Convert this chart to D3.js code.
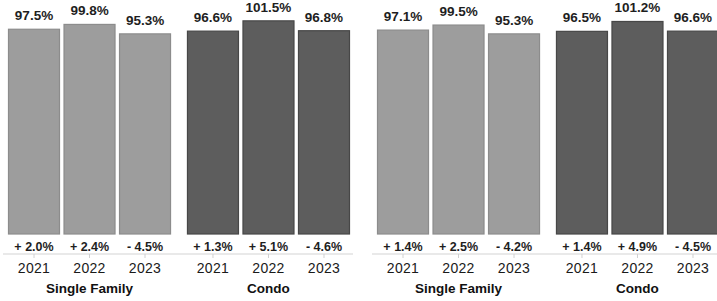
<!DOCTYPE html>
<html>
<head>
<meta charset="utf-8">
<script src="https://cdn.jsdelivr.net/npm/d3@7"></script>
<style>
  html, body { margin: 0; padding: 0; background: #fff; }
  svg { display: block; font-family: "Liberation Sans", Arial, sans-serif; }
</style>
</head>
<body>
<svg width="717" height="301"></svg>
<script>
const years = ["2021", "2022", "2023"];
const types = ["Single Family", "Condo"];

// panel 1
const sfValuesA = [97.5, 99.8, 95.3];
const condoValuesA = [96.6, 101.5, 96.8];
const sfChangeA = [2.0, 2.4, -4.5];
const condoChangeA = [1.3, 5.1, -4.6];

// panel 2
const sfValuesB = [97.1, 99.5, 95.3];
const condoValuesB = [96.5, 101.2, 96.6];
const sfChangeB = [1.4, 2.5, -4.2];
const condoChangeB = [1.4, 4.9, -4.5];

const panels = [
  { left: 8, values: [sfValuesA, condoValuesA], changes: [sfChangeA, condoChangeA] },
  { left: 377, values: [sfValuesB, condoValuesB], changes: [sfChangeB, condoChangeB] }
];

const colors = { "Single Family": "#9d9d9d", "Condo": "#5d5d5d" };
const strokes = { "Single Family": "#8c8c8c", "Condo": "#474747" };

const svg = d3.select("svg");
const baseline = 234;

const y = d3.scaleLinear()
  .domain([0, 110])
  .range([baseline, 3]);

const fmtChange = v => (v < 0 ? "- " : "+ ") + Math.abs(v).toFixed(1) + "%";

panels.forEach(p => {
  const g = svg.append("g").attr("transform", `translate(${p.left},0)`);

  const x0 = d3.scaleBand()
    .domain(types)
    .range([0, 342])
    .paddingInner(0.089)
    .paddingOuter(0);

  const x1 = d3.scaleBand()
    .domain(years)
    .range([0, x0.bandwidth()])
    .paddingInner(0.063)
    .paddingOuter(0);

  // axis line under the change labels
  g.append("line")
    .attr("x1", -5).attr("x2", 345)
    .attr("y1", 254).attr("y2", 254)
    .attr("stroke", "#e2e2e2")
    .attr("stroke-width", 1.5);

  types.forEach((t, ti) => {
    const rows = years.map((yr, i) => ({
      year: yr,
      value: p.values[ti][i],
      change: p.changes[ti][i]
    }));

    const grp = g.append("g").attr("transform", `translate(${x0(t)},0)`);

    grp.selectAll("rect")
      .data(rows)
      .enter()
      .append("rect")
      .attr("x", d => x1(d.year) + 0.5)
      .attr("y", d => y(d.value))
      .attr("width", x1.bandwidth() - 1)
      .attr("height", d => baseline - y(d.value))
      .attr("fill", colors[t])
      .attr("stroke", strokes[t])
      .attr("stroke-width", 1.2);

    grp.selectAll(".val")
      .data(rows)
      .enter()
      .append("text")
      .attr("class", "val")
      .attr("x", d => x1(d.year) + x1.bandwidth() / 2)
      .attr("y", d => y(d.value) - 9)
      .attr("text-anchor", "middle")
      .attr("fill", "#1e1e1e")
      .style("font-size", "13.5px")
      .style("font-weight", "bold")
      .text(d => d.value.toFixed(1) + "%");

    grp.selectAll(".chg")
      .data(rows)
      .enter()
      .append("text")
      .attr("class", "chg")
      .attr("x", d => x1(d.year) + x1.bandwidth() / 2)
      .attr("y", 251)
      .attr("text-anchor", "middle")
      .attr("fill", "#1e1e1e")
      .style("font-size", "12.5px")
      .style("font-weight", "bold")
      .text(d => fmtChange(d.change));

    // small ticks
    grp.selectAll(".tick")
      .data(rows)
      .enter()
      .append("line")
      .attr("x1", d => x1(d.year) + x1.bandwidth() / 2)
      .attr("x2", d => x1(d.year) + x1.bandwidth() / 2)
      .attr("y1", 254).attr("y2", 258)
      .attr("stroke", "#d0d0d0");

    grp.selectAll(".yr")
      .data(rows)
      .enter()
      .append("text")
      .attr("class", "yr")
      .attr("x", d => x1(d.year) + x1.bandwidth() / 2)
      .attr("y", 273)
      .attr("text-anchor", "middle")
      .attr("fill", "#1a1a1a")
      .style("font-size", "14px")
      .style("letter-spacing", "0.3px")
      .text(d => d.year);

    grp.append("text")
      .attr("x", x0.bandwidth() / 2)
      .attr("y", 293)
      .attr("text-anchor", "middle")
      .attr("fill", "#111")
      .style("font-size", "13.5px")
      .style("font-weight", "bold")
      .text(t);
  });
});
</script>
</body>
</html>
